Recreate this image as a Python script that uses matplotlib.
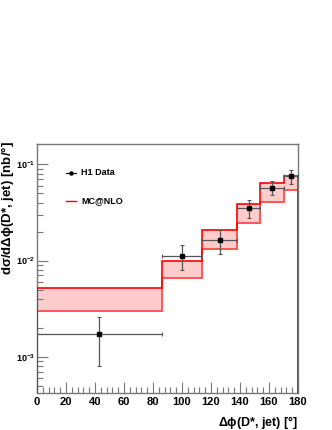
import matplotlib
matplotlib.use("Agg")
import matplotlib.pyplot as plt
from matplotlib.ticker import MultipleLocator, LogLocator, NullFormatter
import numpy as np

plt.rcParams["font.family"] = ["Liberation Sans", "DejaVu Sans"]
plt.rcParams["font.weight"] = "bold"
plt.rcParams["mathtext.fontset"] = "custom"
plt.rcParams["mathtext.rm"] = "Liberation Sans:bold"
plt.rcParams["mathtext.it"] = "Liberation Sans:bold"
plt.rcParams["mathtext.default"] = "rm"

# bin edges in delta phi [deg]
bin_edges = [0, 86, 114, 138, 154, 170, 180]

# H1 data
data_x = [43, 100, 126, 146, 162, 175]
data_y = [1.72e-3, 0.0112, 0.0163, 0.0352, 0.0575, 0.075]
data_up = [2.59e-3, 0.0145, 0.0209, 0.0426, 0.0676, 0.088]
data_dn = [8.0e-4, 0.0079, 0.0117, 0.0279, 0.0482, 0.063]

# MC@NLO band
mc_hi = [5.15e-3, 9.86e-3, 0.0209, 0.0387, 0.0646, 0.0758]
mc_lo = [2.99e-3, 6.65e-3, 0.0133, 0.0243, 0.0402, 0.0546]

fig = plt.figure(figsize=(3.32, 4.30), dpi=100)
ax = fig.add_axes([37 / 332, 1 - 393 / 430, (298 - 37) / 332, (393 - 144) / 430])

edges = np.array(bin_edges, dtype=float)
lo = np.array(mc_lo)
hi = np.array(mc_hi)
ax.stairs(hi, edges, baseline=lo, fill=True, color="#ffcccc", lw=0, zorder=1)
ax.stairs(lo, edges, color="#ff5555", lw=1.4, zorder=2)
ax.stairs(hi, edges, color="#ff0000", lw=1.2, zorder=3)

x = np.array(data_x, dtype=float)
y = np.array(data_y)
xerr = np.array([x - edges[:-1], edges[1:] - x])
yerr = np.array([y - np.array(data_dn), np.array(data_up) - y])
ax.errorbar(x, y, xerr=xerr, yerr=yerr, fmt="s", ms=2.5, color="black",
            ecolor="#555555", elinewidth=0.9, capsize=1.5, capthick=0.8, zorder=5)

ax.set_yscale("log")
ax.set_xlim(0, 180)
ax.set_ylim(4.2e-4, 0.163)

ax.xaxis.set_major_locator(MultipleLocator(20))
ax.xaxis.set_minor_locator(MultipleLocator(4))
ax.yaxis.set_major_locator(LogLocator(base=10, numticks=10))
ax.yaxis.set_minor_locator(LogLocator(base=10, subs=np.arange(2, 10), numticks=10))
ax.yaxis.set_minor_formatter(NullFormatter())

ax.tick_params(axis="both", which="both", direction="in", top=False, right=False,
               color="#777777")
ax.tick_params(axis="x", labelsize=8, pad=3)
ax.tick_params(axis="y", labelsize=6.5, pad=1.5)
ax.tick_params(axis="both", which="major", length=8, width=0.8)
ax.tick_params(axis="both", which="minor", length=4, width=0.8)
for s in ax.spines.values():
    s.set_color("#777777")
    s.set_linewidth(1.0)
for lbl in ax.get_xticklabels() + ax.get_yticklabels():
    lbl.set_fontweight("bold")

ax.set_xlabel(r"$\Delta\phi$(D*, jet) [°]", fontsize=9, fontweight="bold", loc="right")
ax.set_ylabel(r"d$\sigma$/d$\Delta\phi$(D*, jet) [nb/°]", fontsize=9.5,
              fontweight="bold", loc="top")
ax.xaxis.set_label_coords(1.0, -0.085)
ax.yaxis.set_label_coords(-0.079, 1.01)

# legend drawn by hand like ROOT TLegend
ax.plot([0.11, 0.15], [0.885, 0.885], transform=ax.transAxes, color="black", lw=0.8)
ax.plot([0.13], [0.885], "o", ms=2.2, color="black", transform=ax.transAxes)
ax.text(0.17, 0.885, "H1 Data", transform=ax.transAxes, fontsize=6.5,
        fontweight="bold", va="center")
ax.plot([0.11, 0.15], [0.773, 0.773], transform=ax.transAxes, color="red", lw=1.0)
ax.text(0.17, 0.773, "MC@NLO", transform=ax.transAxes, fontsize=6.5,
        fontweight="bold", va="center")

fig.savefig("out.png", dpi=100, facecolor="white")
